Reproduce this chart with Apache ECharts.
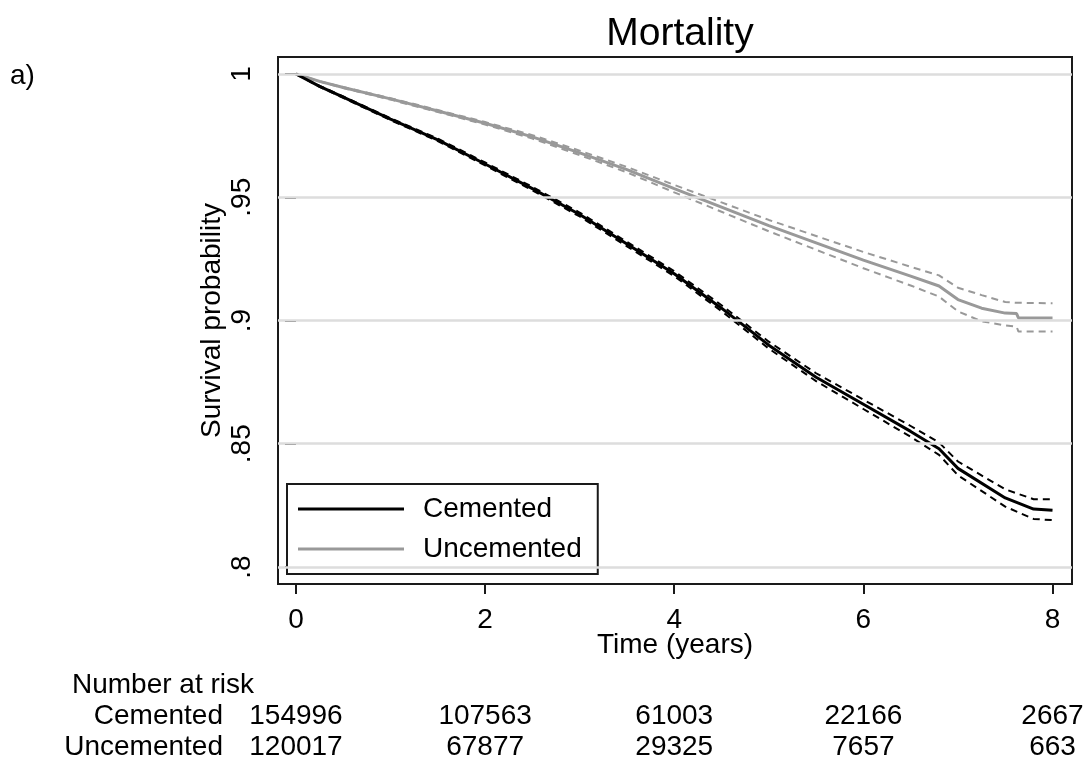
<!DOCTYPE html>
<html>
<head>
<meta charset="utf-8">
<script src="https://cdn.jsdelivr.net/npm/echarts@6/dist/echarts.min.js"></script>
<style>
html,body{margin:0;padding:0;background:#fff;}
#chart{width:1090px;height:764px;}
</style>
</head>
<body>
<div id="chart"></div>
<script>
// ---------- data ----------
const titleText = 'Mortality';
const panelLabel = 'a)';
const xName = 'Time (years)';
const yName = 'Survival probability';
const xTicks = [0, 2, 4, 6, 8];
const xTickLabels = ['0', '2', '4', '6', '8'];
const yTicks = [0.8, 0.85, 0.9, 0.95, 1];
const yTickLabels = ['.8', '.85', '.9', '.95', '1'];

const cemTime  = [0, 0.25, 0.5, 1.0, 1.5, 2.0, 2.5, 3.0, 3.5, 4.0, 4.5, 5.0, 5.5, 6.0, 6.5, 6.8, 7.0, 7.5, 7.8, 8.0];
const cemSurv  = [1.000, 0.9950, 0.9906, 0.9817, 0.9733, 0.9635, 0.9535, 0.9430, 0.9310, 0.9190, 0.9050, 0.8900, 0.8770, 0.8660, 0.8550, 0.8480, 0.8400, 0.8280, 0.8235, 0.8230];
const cemUpper = [1.000, 0.9952, 0.9909, 0.9821, 0.9738, 0.9641, 0.9542, 0.9438, 0.9319, 0.9200, 0.9062, 0.8914, 0.8786, 0.8679, 0.8572, 0.8505, 0.8428, 0.8315, 0.8275, 0.8275];
const cemLower = [1.000, 0.9948, 0.9903, 0.9813, 0.9728, 0.9629, 0.9528, 0.9422, 0.9301, 0.9180, 0.9038, 0.8886, 0.8754, 0.8641, 0.8528, 0.8455, 0.8372, 0.8245, 0.8195, 0.8190];

const uncTime  = [0, 0.25, 0.5, 1.0, 1.5, 2.0, 2.5, 3.0, 3.5, 4.0, 4.5, 5.0, 5.5, 6.0, 6.5, 6.8, 7.0, 7.25, 7.5, 7.62, 7.64, 8.0];
const uncSurv  = [1.000, 0.9970, 0.9945, 0.9899, 0.9850, 0.9800, 0.9745, 0.9680, 0.9612, 0.9535, 0.9460, 0.9385, 0.9315, 0.9245, 0.9180, 0.9140, 0.9085, 0.9050, 0.9030, 0.9028, 0.9010, 0.9010];
const uncUpper = [1.000, 0.9971, 0.9947, 0.9902, 0.9854, 0.9805, 0.9752, 0.9689, 0.9623, 0.9550, 0.9479, 0.9408, 0.9343, 0.9278, 0.9218, 0.9183, 0.9133, 0.9103, 0.9075, 0.9072, 0.9070, 0.9070];
const uncLower = [1.000, 0.9969, 0.9943, 0.9896, 0.9846, 0.9795, 0.9738, 0.9671, 0.9601, 0.9520, 0.9441, 0.9362, 0.9287, 0.9212, 0.9142, 0.9097, 0.9037, 0.8997, 0.8980, 0.8975, 0.8955, 0.8955];

const riskHeader = 'Number at risk';
const riskGroups = ['Cemented', 'Uncemented'];
const riskTimes = [0, 2, 4, 6, 8];
const riskCemented = ['154996', '107563', '61003', '22166', '2667'];
const riskUncemented = ['120017', '67877', '29325', '7657', '663'];

// ---------- chart ----------
const FONT = "'Liberation Sans', Arial, sans-serif";
const pairs = (t, v) => t.map((x, i) => [x, v[i]]);
const BLACK = '#000000', GRAY = '#999999';

function mainSeries(name, t, v, color) {
  return { name, type: 'line', data: pairs(t, v), symbol: 'none', showSymbol: false,
    lineStyle: { color, width: 3 }, itemStyle: { color }, z: 3 };
}
function ciSeries(name, t, v, color) {
  return { name, type: 'line', data: pairs(t, v), symbol: 'none', showSymbol: false,
    lineStyle: { color, width: 2, type: [7, 5] }, itemStyle: { color }, z: 2 };
}

const chart = echarts.init(document.getElementById('chart'), null, { renderer: 'canvas' });

const gridSeries = {
  name: '_grid', type: 'line', data: [], silent: true, z: 1,
  markLine: {
    silent: true, symbol: 'none', animation: false,
    label: { show: false },
    lineStyle: { color: '#dddddd', width: 2.5, type: 'solid' },
    data: yTicks.map(v => ({ yAxis: v }))
  }
};

chart.setOption({
  animation: false,
  backgroundColor: '#ffffff',
  textStyle: { fontFamily: FONT, color: '#000' },
  title: {
    text: titleText, left: 675, top: 10, textAlign: 'center',
    textStyle: { fontFamily: FONT, fontSize: 39, fontWeight: 'normal', color: '#000' }
  },
  grid: {
    left: 278, right: 1090 - 1072, top: 57, bottom: 764 - 584,
    show: true, borderColor: '#1a1a1a', borderWidth: 2, backgroundColor: 'transparent',
    containLabel: false
  },
  legend: {
    orient: 'vertical', left: 287, top: 484,
    data: [{ name: 'Cemented', icon: 'rect' }, { name: 'Uncemented', icon: 'rect' }],
    itemWidth: 106, itemHeight: 3, itemGap: 12,
    padding: [11, 16, 11, 11],
    borderColor: '#1a1a1a', borderWidth: 2, backgroundColor: '#ffffff',
    textStyle: { fontFamily: FONT, fontSize: 28, color: '#000', padding: [0, 0, 0, 14] },
    selectedMode: false
  },
  xAxis: {
    type: 'value', min: -0.190, max: 8.206,
    name: xName, nameLocation: 'middle', nameGap: 47, nameMoveOverlap: false,
    nameTextStyle: { fontFamily: FONT, fontSize: 28, color: '#000' },
    axisLine: { show: false },
    axisTick: { show: true, length: 10, lineStyle: { color: '#1a1a1a', width: 2 }, customValues: xTicks },
    axisLabel: { fontFamily: FONT, fontSize: 28, color: '#000', margin: 22, customValues: xTicks,
      formatter: v => xTickLabels[xTicks.indexOf(v)] ?? '' },
    splitLine: { show: false }
  },
  yAxis: {
    type: 'value', min: 0.7931, max: 1.0069,
    name: yName, nameLocation: 'middle', nameGap: 52, nameRotate: 90, nameMoveOverlap: false,
    nameTextStyle: { fontFamily: FONT, fontSize: 28, color: '#000' },
    axisLine: { show: false },
    axisTick: { show: true, length: 11, lineStyle: { color: '#1a1a1a', width: 2 }, customValues: yTicks },
    axisLabel: { fontFamily: FONT, fontSize: 28, color: '#000', margin: 22, rotate: 90, customValues: yTicks,
      formatter: v => { const i = yTicks.findIndex(t => Math.abs(t - v) < 1e-6); return i >= 0 ? yTickLabels[i] : ''; } },
    splitLine: { show: false }
  },
  series: [
    gridSeries,
    ciSeries('Cemented CI upper', cemTime, cemUpper, BLACK),
    ciSeries('Cemented CI lower', cemTime, cemLower, BLACK),
    ciSeries('Uncemented CI upper', uncTime, uncUpper, GRAY),
    ciSeries('Uncemented CI lower', uncTime, uncLower, GRAY),
    mainSeries('Uncemented', uncTime, uncSurv, GRAY),
    mainSeries('Cemented', cemTime, cemSurv, BLACK)
  ]
});

// number-at-risk table and panel label positioned through the x scale
const txt = (text, x, y, align) => ({
  type: 'text', x, y,
  style: { text, fontFamily: FONT, fontSize: 28, fill: '#000', align: align || 'center', verticalAlign: 'middle' }
});
const labelRight = chart.convertToPixel({ xAxisIndex: 0 }, riskTimes[0]) - 73;
const graphics = [txt(panelLabel, 10, 76, 'left'), txt(riskHeader, 72, 685, 'left')];
graphics.push(txt(riskGroups[0], labelRight, 716, 'right'));
graphics.push(txt(riskGroups[1], labelRight, 747, 'right'));
riskTimes.forEach((t, i) => {
  const px = chart.convertToPixel({ xAxisIndex: 0 }, t);
  graphics.push(txt(riskCemented[i], px, 716));
  graphics.push(txt(riskUncemented[i], px, 747));
});
chart.setOption({ graphic: graphics });
</script>
</body>
</html>
